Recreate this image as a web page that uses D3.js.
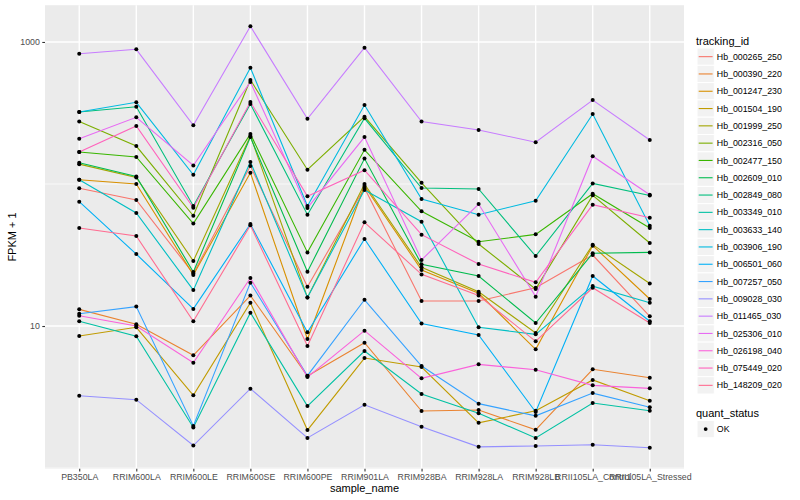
<!DOCTYPE html>
<html><head><meta charset="utf-8">
<script src="https://cdn.jsdelivr.net/npm/d3@7"></script>
<style>body{margin:0;background:#fff}</style>
</head><body>
<svg id="chart" width="800" height="500"></svg>
<script>
// ---- data (FPKM + 1) ----
const categories = ["PB350LA","RRIM600LA","RRIM600LE","RRIM600SE","RRIM600PE","RRIM901LA","RRIM928BA","RRIM928LA","RRIM928LB","RRII105LA_Control","RRII105LA_Stressed"];
const seriesNames = ["Hb_000265_250","Hb_000390_220","Hb_001247_230","Hb_001504_190","Hb_001999_250","Hb_002316_050","Hb_002477_150","Hb_002609_010","Hb_002849_080","Hb_003349_010","Hb_003633_140","Hb_003906_190","Hb_006501_060","Hb_007257_050","Hb_009028_030","Hb_011465_030","Hb_025306_010","Hb_026198_040","Hb_075449_020","Hb_148209_020"];
const Hb_000265_250 = [93.3, 77.2, 23.4, 134, 18.9, 93.7, 15.0, 15.0, 18.6, 31.6, 11.7];
const Hb_000390_220 = [13.1, 10.3, 6.22, 16.4, 4.44, 7.63, 2.52, 2.56, 1.86, 4.96, 4.32];
const Hb_001247_230 = [107, 100, 22.9, 120, 8.10, 96.8, 24.8, 17.0, 6.85, 36.8, 15.5];
const Hb_001504_190 = [8.50, 9.79, 3.25, 14.6, 1.85, 5.95, 5.14, 2.08, 2.53, 4.17, 2.98];
const Hb_001999_250 = [138, 111, 28.7, 218, 15.9, 100, 25.9, 17.4, 8.93, 37.4, 19.9];
const Hb_002316_050 = [275, 185, 59.7, 540, 126, 298, 102, 37.8, 18.2, 83.2, 38.4];
const Hb_002477_150 = [168, 155, 52.6, 225, 33.0, 174, 64.2, 39.2, 44.2, 85.4, 49.0];
const Hb_002609_010 = [141, 113, 24.0, 214, 24.1, 151, 27.2, 22.5, 10.5, 32.5, 33.0];
const Hb_002849_080 = [321, 350, 70.0, 366, 60.8, 290, 93.7, 92.2, 31.1, 101, 83.0];
const Hb_003349_010 = [10.8, 8.46, 1.93, 12.4, 2.73, 6.67, 3.32, 2.43, 1.63, 2.87, 2.53];
const Hb_003633_140 = [107, 62.5, 17.9, 143, 15.9, 90.7, 54.3, 9.79, 8.74, 19.1, 14.6];
const Hb_003906_190 = [321, 376, 116, 659, 70.0, 360, 78.4, 60.8, 76.3, 311, 50.9];
const Hb_006501_060 = [75.1, 32.1, 13.2, 52.3, 9.03, 41.0, 10.4, 8.64, 2.48, 22.5, 10.8];
const Hb_007257_050 = [12.2, 13.7, 1.98, 20.2, 4.47, 15.3, 5.23, 2.84, 2.33, 3.37, 2.68];
const Hb_009028_030 = [3.23, 3.03, 1.44, 3.62, 1.63, 2.79, 1.95, 1.41, 1.43, 1.46, 1.39];
const Hb_011465_030 = [827, 888, 259, 1290, 288, 912, 275, 240, 197, 390, 204];
const Hb_025306_010 = [208, 295, 135, 523, 67.8, 214, 29.2, 72.3, 16.1, 157, 84.0];
const Hb_026198_040 = [11.8, 10.0, 5.51, 21.8, 4.37, 9.27, 4.28, 5.37, 4.92, 3.82, 3.64];
const Hb_075449_020 = [168, 256, 68.1, 378, 81.9, 125, 44.0, 27.3, 20.3, 71.5, 57.9];
const Hb_148209_020 = [49.0, 43.0, 10.8, 51.2, 7.23, 53.7, 23.1, 16.4, 7.80, 18.6, 10.5];
const yTickValues = [10, 1000];
const yTickLabels = ["10", "1000"];
const quantStatus = ["OK"];

const seriesValues = [Hb_000265_250,Hb_000390_220,Hb_001247_230,Hb_001504_190,Hb_001999_250,Hb_002316_050,Hb_002477_150,Hb_002609_010,Hb_002849_080,Hb_003349_010,Hb_003633_140,Hb_003906_190,Hb_006501_060,Hb_007257_050,Hb_009028_030,Hb_011465_030,Hb_025306_010,Hb_026198_040,Hb_075449_020,Hb_148209_020];

// ggplot2 default hue palette (20 levels)
const palette = ["#F8766D","#EA8331","#D89000","#C09B00","#A3A500","#7CAE00","#39B600","#00BB4E","#00BF7D","#00C1A3","#00BFC4","#00BAE0","#00B0F6","#35A2FF","#9590FF","#C77CFF","#E76BF3","#FA62DB","#FF62BC","#FF6C91"];

const series = seriesNames.map((name, i) => ({
  name, color: palette[i],
  points: categories.map((c, j) => ({cat: c, v: seriesValues[i][j]}))
}));

// ---- layout ----
const FONT = "'Liberation Sans', Arial, Helvetica, sans-serif";
const panel = {left: 45, right: 684, top: 5.2, bottom: 468.8};
const svg = d3.select("#chart");

const x = d3.scalePoint().domain(categories).range([panel.left, panel.right]).padding(0.6);

const allLogs = seriesValues.flat().map(v => Math.log10(v));
const lmin = d3.min(allLogs), lmax = d3.max(allLogs);
const ex = (lmax - lmin) * 0.05;
const y = d3.scaleLog().domain([Math.pow(10, lmin - ex), Math.pow(10, lmax + ex)]).range([panel.bottom, panel.top]);

// panel background
svg.append("rect").attr("x", panel.left).attr("y", panel.top)
  .attr("width", panel.right - panel.left).attr("height", panel.bottom - panel.top)
  .attr("fill", "#EBEBEB");

const grid = svg.append("g");
// minor horizontal grid (log midpoints)
[1, 100].forEach(v => {
  const yy = y(v);
  if (yy >= panel.top && yy <= panel.bottom)
    grid.append("line").attr("x1", panel.left).attr("x2", panel.right)
      .attr("y1", yy).attr("y2", yy).attr("stroke", "#fff").attr("stroke-width", 0.7);
});
yTickValues.forEach(v => {
  grid.append("line").attr("x1", panel.left).attr("x2", panel.right)
    .attr("y1", y(v)).attr("y2", y(v)).attr("stroke", "#fff").attr("stroke-width", 1.4);
});
categories.forEach(c => {
  grid.append("line").attr("x1", x(c)).attr("x2", x(c))
    .attr("y1", panel.top).attr("y2", panel.bottom).attr("stroke", "#fff").attr("stroke-width", 1.4);
});

// lines
const line = d3.line().x(d => x(d.cat)).y(d => y(d.v));
svg.append("g").selectAll("path").data(series).join("path")
  .attr("d", d => line(d.points))
  .attr("fill", "none").attr("stroke", d => d.color).attr("stroke-width", 1.1);

// points
svg.append("g").selectAll("g").data(series).join("g")
  .selectAll("circle").data(d => d.points).join("circle")
  .attr("cx", d => x(d.cat)).attr("cy", d => y(d.v)).attr("r", 2).attr("fill", "#000");

// axes
const xAxis = d3.axisBottom(x).tickSize(2.7).tickPadding(2.5);
const gx = svg.append("g").attr("transform", `translate(0,${panel.bottom})`).call(xAxis);
gx.select(".domain").remove();
gx.selectAll(".tick line").attr("stroke", "#333333").attr("stroke-width", 1.1);
gx.selectAll(".tick text").attr("fill", "#4D4D4D").style("font-family", FONT).style("font-size", "8.8px");

const yAxis = d3.axisLeft(y).tickValues(yTickValues).tickFormat((d, i) => yTickLabels[i]).tickSize(2.7).tickPadding(2.5);
const gy = svg.append("g").attr("transform", `translate(${panel.left},0)`).call(yAxis);
gy.select(".domain").remove();
gy.selectAll(".tick line").attr("stroke", "#333333").attr("stroke-width", 1.1);
gy.selectAll(".tick text").attr("fill", "#4D4D4D").style("font-family", FONT).style("font-size", "8.8px");

// axis titles
svg.append("text").attr("x", (panel.left + panel.right) / 2).attr("y", 492)
  .attr("text-anchor", "middle").style("font-family", FONT).style("font-size", "11px").attr("fill", "#000")
  .text("sample_name");
svg.append("text").attr("transform", `translate(16,${(panel.top + panel.bottom) / 2}) rotate(-90)`)
  .attr("text-anchor", "middle").style("font-family", FONT).style("font-size", "11px").attr("fill", "#000")
  .text("FPKM + 1");

// legend: tracking_id
const lg = svg.append("g");
const lx = 696, keyW = 17.3, keyH = 17.3, key0 = 48;
lg.append("text").attr("x", lx).attr("y", 44.5).style("font-family", FONT).style("font-size", "11px").attr("fill", "#000").text("tracking_id");
series.forEach((s, i) => {
  const ky = key0 + i * keyH;
  lg.append("rect").attr("x", lx + 1).attr("y", ky).attr("width", keyW).attr("height", keyH)
    .attr("fill", "#F2F2F2").attr("stroke", "#fff").attr("stroke-width", 1);
  lg.append("line").attr("x1", lx + 2.7).attr("x2", lx + keyW - 0.7)
    .attr("y1", ky + keyH / 2).attr("y2", ky + keyH / 2).attr("stroke", s.color).attr("stroke-width", 1.1);
  lg.append("text").attr("x", lx + keyW + 3.5).attr("y", ky + keyH / 2 + 3.1)
    .style("font-family", FONT).style("font-size", "8.8px").attr("fill", "#000").text(s.name);
});
// legend: quant_status
lg.append("text").attr("x", lx).attr("y", 416.5).style("font-family", FONT).style("font-size", "11px").attr("fill", "#000").text("quant_status");
quantStatus.forEach((q, i) => {
  const ky = 420.4 + i * keyH;
  lg.append("rect").attr("x", lx + 1).attr("y", ky).attr("width", keyW).attr("height", keyH)
    .attr("fill", "#F2F2F2").attr("stroke", "#fff").attr("stroke-width", 1);
  lg.append("circle").attr("cx", lx + 1 + keyW / 2).attr("cy", ky + keyH / 2).attr("r", 1.9).attr("fill", "#000");
  lg.append("text").attr("x", lx + keyW + 3.5).attr("y", ky + keyH / 2 + 3.1)
    .style("font-family", FONT).style("font-size", "8.8px").attr("fill", "#000").text(q);
});
</script>
</body></html>
